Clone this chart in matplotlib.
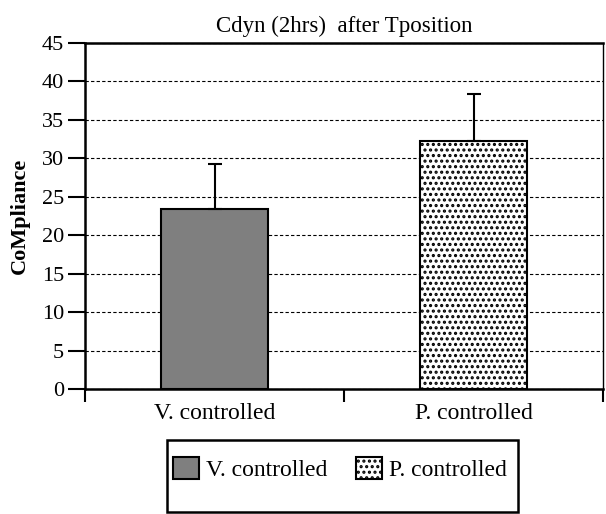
import matplotlib.pyplot as plt
import matplotlib.patches as mpatches

categories = ['V. controlled', 'P. controlled']
means = [23.4, 32.2]
errors = [5.9, 6.2]
ticks = [0, 5, 10, 15, 20, 25, 30, 35, 40, 45]

plt.rcParams['font.family'] = ['Liberation Serif', 'DejaVu Serif']
plt.rcParams['hatch.linewidth'] = 1.5

fig = plt.figure(figsize=(6.06, 5.14), dpi=100)
ax = fig.add_axes([85 / 606, 1 - 389 / 514, 518 / 606, 346 / 514])

x = [0, 1]
bars = ax.bar(x, means, width=0.41, color=['#7f7f7f', 'white'],
              edgecolor='black', linewidth=1.5, zorder=3)
bars[1].set_hatch('...')
ax.errorbar(x, means, yerr=[[0, 0], errors], fmt='none', ecolor='black',
            elinewidth=1.5, capsize=5, capthick=1.5, zorder=4)

ax.set_xlim(-0.5, 1.5)
ax.set_ylim(0, 45)
ax.set_yticks(ticks)
ax.set_yticklabels([str(t) for t in ticks], fontsize=16)
ax.yaxis.grid(True, linestyle=(0, (3, 2)), color='black', linewidth=0.8, zorder=0)
ax.tick_params(axis='y', direction='out', length=12, width=1.5, pad=3)

ax.set_xticks([-0.5, 0.5, 1.5])
ax.set_xticklabels(['', '', ''])
ax.set_xticks(x, minor=True)
ax.set_xticklabels(categories, minor=True, fontsize=17)
ax.tick_params(axis='x', which='major', direction='out', length=9, width=1.5)
ax.tick_params(axis='x', which='minor', length=0, pad=10)

for side in ['left', 'bottom', 'top']:
    ax.spines[side].set_linewidth(1.8)
ax.spines['right'].set_linewidth(1.0)

ax.set_ylabel('CoMpliance', fontsize=16, fontweight='bold', labelpad=9)
ax.set_title('Cdyn (2hrs)  after Tposition', fontsize=16.5, pad=8)

# legend box
fig.patches.append(mpatches.Rectangle((167 / 606, 1 - 512 / 514), 351 / 606, 72 / 514,
                                      transform=fig.transFigure, fill=False,
                                      edgecolor='black', linewidth=1.8))
handles = [mpatches.Patch(facecolor='#7f7f7f', edgecolor='black', linewidth=1.5),
           mpatches.Patch(facecolor='white', edgecolor='black', linewidth=1.5, hatch='...')]
fig.legend(handles, categories, loc='center', bbox_to_anchor=(340 / 606, 1 - 469 / 514),
           ncol=2, frameon=False, fontsize=17, handlelength=1.1, handleheight=1.1,
           handletextpad=0.3, columnspacing=1.2)

fig.savefig('out.png', dpi=100)
